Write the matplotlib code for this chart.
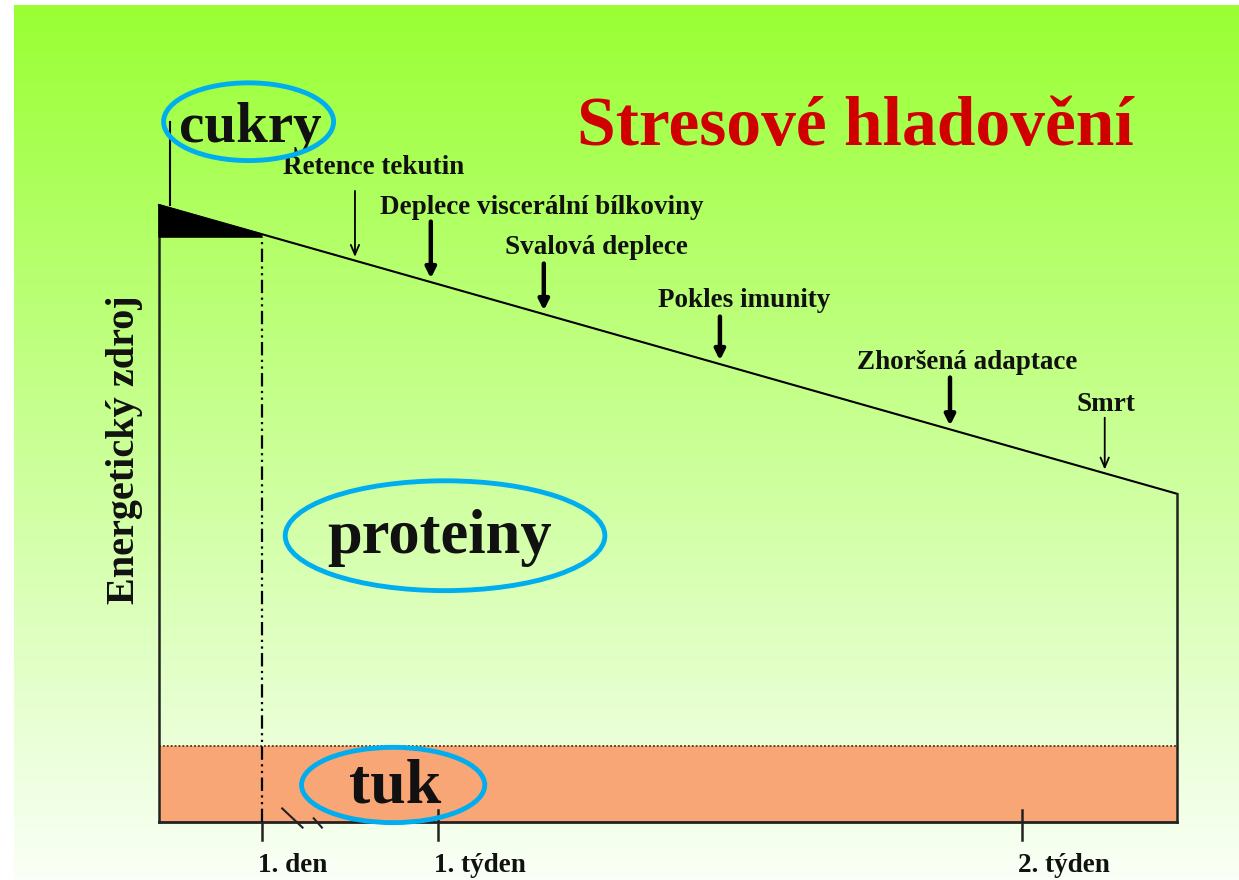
import numpy as np
import matplotlib
matplotlib.use("Agg")
import matplotlib.pyplot as plt
from matplotlib.patches import Ellipse, Rectangle, Polygon

# schematic time axis (0..100) and energy reserve (0..100)
tick_t = [10.1, 27.4, 84.8]
tick_labels = ["1. den", "1. týden", "2. týden"]

line_t = [0.0, 100.0]
line_energy = [100.0, 53.2]
glucose_end_t = 10.1
glucose_floor = 94.8
fat_level = 12.3

events = ["Retence tekutin", "Deplece viscerální bílkoviny", "Svalová deplece",
          "Pokles imunity", "Zhoršená adaptace", "Smrt"]
event_t = [19.25, 26.7, 37.8, 55.1, 77.7, 92.9]
event_heavy = [False, True, True, True, True, False]

# label placement
arrow_len = [10.7, 9.2, 7.6, 7.1, 7.8, 8.4]
label_x = [12.2, 21.7, 34.0, 49.0, 68.6, 90.1]
label_y = [105.0, 98.5, 92.1, 83.5, 73.4, 66.6]

W, H = 1239, 880
fig = plt.figure(figsize=(W / 100, H / 100), dpi=100)
fig.patch.set_facecolor("white")

# green-to-white gradient backdrop
bg = fig.add_axes([14 / W, 0, 1 - 14 / W, 875 / H])
top = np.array([153, 255, 51]) / 255
bottom = np.array([250, 255, 247]) / 255
s = np.linspace(0, 1, 256)[:, None]
grad = top * (1 - s) + bottom * s
bg.imshow(grad[:, None, :], aspect="auto", extent=[0, 1, 0, 1])
bg.axis("off")

ax = fig.add_axes([0, 0, 1, 1])
ax.set_facecolor("none")
sx = (1177 - 159) / 100
sy = (822 - 205) / 100
ax.set_xlim(-159 / sx, (W - 159) / sx)
ax.set_ylim(-58 / sy, (H - 58) / sy)
ax.axis("off")

serif = "Liberation Serif"
ink = "#111111"

# fat band
ax.add_patch(Rectangle((0, 0), line_t[1], fat_level, facecolor="#F8A676",
                       edgecolor="none", zorder=1))
ax.plot([0, line_t[1]], [fat_level, fat_level], color="#6b3f22", lw=1.4,
        ls=(0, (1, 1)), zorder=2)

# energy envelope
ax.plot(line_t, line_energy, color="black", lw=1.5, zorder=3)
ax.plot([0, 0], [0, line_energy[0]], color="#222222", lw=1.8, zorder=3)
ax.plot([line_t[1], line_t[1]], [0, line_energy[1]], color="#222222", lw=1.8, zorder=3)
ax.plot([0, line_t[1]], [0, 0], color="#222222", lw=2, zorder=3)

# glucose wedge
g_top = np.interp(glucose_end_t, line_t, line_energy)
ax.add_patch(Polygon([(0, line_energy[0]), (glucose_end_t, g_top),
                      (glucose_end_t, glucose_floor), (0, glucose_floor)],
                     closed=True, facecolor="black", edgecolor="black", zorder=3))
ax.plot([1.1, 1.1], [line_energy[0], 113.5], color="black", lw=1.5, zorder=3)

# end of first day
ax.plot([glucose_end_t, glucose_end_t], [0, glucose_floor], color="black",
        lw=1.6, ls=(0, (6, 2, 1, 2, 1, 2)), zorder=3)

# axis break
ax.plot([12.1, 14.1], [2.2, -0.9], color="#222222", lw=1.5, zorder=4)
ax.plot([15.2, 16.0], [0.6, -0.9], color="#222222", lw=1.5, zorder=4)

# time ticks
for t, lab in zip(tick_t, tick_labels):
    y0 = 0 if t == tick_t[0] else 2.0
    ax.plot([t, t], [y0, -2.9], color="#222222", lw=1.8, zorder=4)
    ax.text(t - 0.4, -8.1, lab, ha="left", va="baseline", fontsize=19.5,
            fontweight="bold", family=serif, color=ink)

# events along the decline
for name, t, heavy, L, lx, ly in zip(events, event_t, event_heavy, arrow_len,
                                     label_x, label_y):
    tip = np.interp(t, line_t, line_energy) + 0.6
    if heavy:
        props = dict(arrowstyle="-|>,head_length=0.6,head_width=0.3",
                     lw=3.2, color="black", shrinkA=0, shrinkB=0)
    else:
        props = dict(arrowstyle="->,head_length=0.7,head_width=0.3",
                     lw=1.3, color="black", shrinkA=0, shrinkB=0)
    ax.annotate("", xy=(t, tip), xytext=(t, tip + L), arrowprops=props, zorder=5)
    ax.text(lx, ly, name, ha="left", va="baseline", fontsize=19.5,
            fontweight="bold", family=serif, color=ink)

# nutrient sources
ax.text(9.0, 110.2, "cukry", ha="center", va="baseline", fontsize=41,
        fontweight="bold", family=serif, color=ink, zorder=5)
ax.add_patch(Ellipse((8.8, 113.5), 16.7, 12.6, fill=False, edgecolor="#00AEEF",
                     lw=3.5, zorder=6))
ax.text(27.6, 43.6, "proteiny", ha="center", va="baseline", fontsize=45,
        fontweight="bold", family=serif, color=ink, zorder=5)
ax.add_patch(Ellipse((28.1, 46.4), 31.4, 17.8, fill=False, edgecolor="#00AEEF",
                     lw=3.5, zorder=6))
ax.text(23.2, 3.1, "tuk", ha="center", va="baseline", fontsize=46,
        fontweight="bold", family=serif, color=ink, zorder=5)
ax.add_patch(Ellipse((23.0, 6.0), 18.0, 12.2, fill=False, edgecolor="#00AEEF",
                     lw=3.5, zorder=6))

ax.text(-3.4, 60.3, "Energetický zdroj", rotation=90, ha="center", va="center",
        fontsize=29, fontweight="bold", family=serif, color=ink)

ax.text(68.4, 109.7, "Stresové hladovění", ha="center", va="baseline",
        fontsize=50, fontweight="bold", family=serif, color="#D00000")

fig.savefig("out.png", dpi=100)
